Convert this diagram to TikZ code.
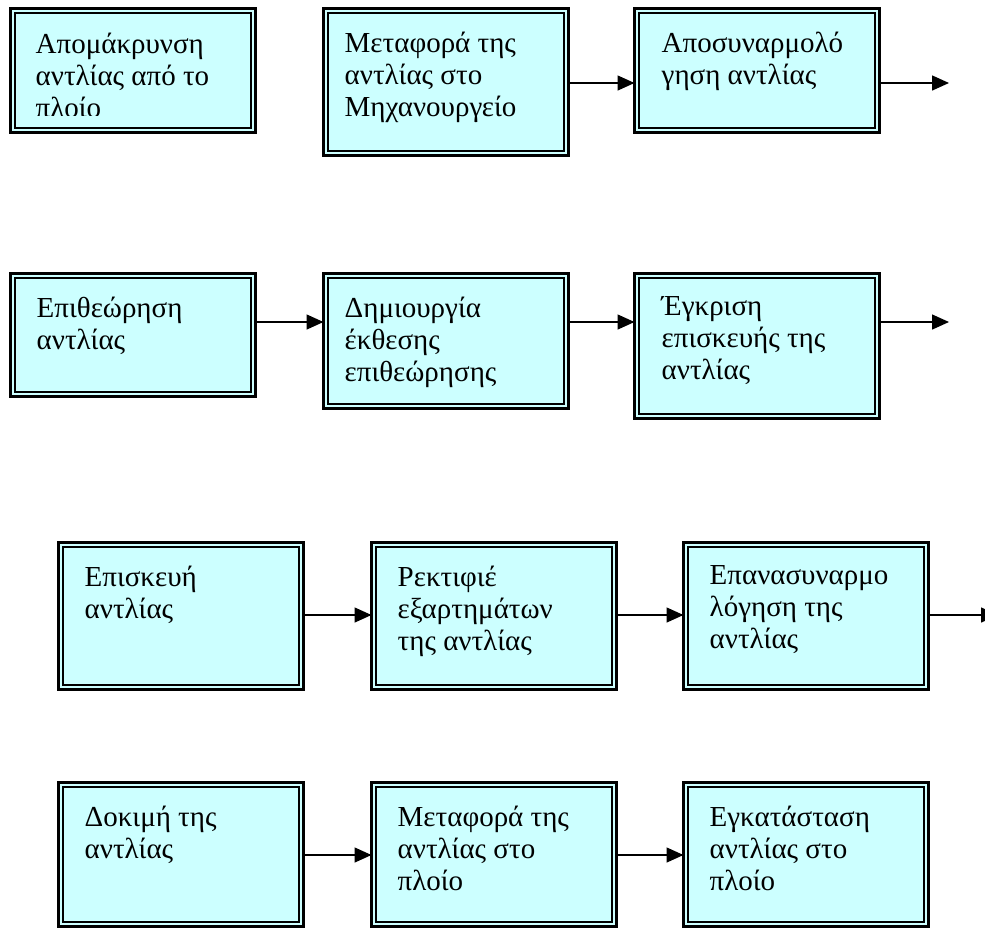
\documentclass[tikz,border=0pt]{standalone}
\usepackage{fontspec}
\setmainfont{Liberation Serif}
\usetikzlibrary{arrows.meta}
\definecolor{boxcyan}{HTML}{CCFFFF}

\begin{document}
\begin{tikzpicture}[x=1pt,y=-1pt,>={Triangle[length=17pt,width=15pt]},font=\fontsize{29}{32}\selectfont]
    \tikzstyle{rec}=[draw=black,line width=3.5pt,fill=boxcyan,rectangle,anchor=north west,inner sep=0pt,outer sep=0pt,minimum width=245pt,
        path picture={\draw[line width=2pt] ([shift={(4.5,4.5)}]path picture bounding box.north west) rectangle ([shift={(-4.5,-4.5)}]path picture bounding box.south east);}]
    \tikzstyle{txt}=[anchor=north west,inner sep=0pt,align=left,execute at begin node=\strut]
    \tikzstyle{arr}=[->,line width=1.5pt]

    \useasboundingbox (0,0) rectangle (985,929);

    \coordinate (r1) at (0,83);
    \coordinate (r2) at (0,322);
    \coordinate (r3) at (0,615);
    \coordinate (r4) at (0,855);

    \node[rec, minimum height=124pt] (pull) at (10.5,8.5) {};
    \node[rec, minimum height=147pt] (move) at (323.5,8.5) {};
    \node[rec, minimum height=124pt] (dismantle) at (634.5,8.5) {};
    \node[rec, minimum height=123pt] (inspect) at (10.5,273.5) {};
    \node[rec, minimum height=135pt] (report) at (323.5,273.5) {};
    \node[rec, minimum height=145pt] (approve) at (634.5,273.5) {};
    \node[rec, minimum height=147pt] (repair) at (58.5,542.5) {};
    \node[rec, minimum height=147pt] (grind) at (371.5,542.5) {};
    \node[rec, minimum height=147pt] (reassemble) at (683.5,542.5) {};
    \node[rec, minimum height=144pt] (test) at (58.5,782.5) {};
    \node[rec, minimum height=144pt] (ship) at (371.5,782.5) {};
    \node[rec, minimum height=144pt] (install) at (683.5,782.5) {};

    \begin{scope}
        \clip (pull.north west) rectangle ([yshift=17pt]pull.south east);
        \node[txt] (pull-t) at ([shift={(25,24)}]pull.north west) {Απομάκρυνση\\αντλίας από το\\πλοίο};
    \end{scope}
    \node[txt] (move-t) at ([shift={(21,23)}]move.north west) {Μεταφορά της\\αντλίας στο\\Μηχανουργείο};
    \node[txt] (dismantle-t) at ([shift={(27,23)}]dismantle.north west) {Αποσυναρμολό\\γηση αντλίας};
    \node[txt] (inspect-t) at ([shift={(26,23)}]inspect.north west) {Επιθεώρηση\\αντλίας};
    \node[txt] (report-t) at ([shift={(21,23)}]report.north west) {Δημιουργία\\έκθεσης\\επιθεώρησης};
    \node[txt] (approve-t) at ([shift={(27,23)}]approve.north west) {Έγκριση\\επισκευής της\\αντλίας};
    \node[txt] (repair-t) at ([shift={(26,23)}]repair.north west) {Επισκευή\\αντλίας};
    \node[txt] (grind-t) at ([shift={(26,23)}]grind.north west) {Ρεκτιφιέ\\εξαρτημάτων\\της αντλίας};
    \node[txt] (reassemble-t) at ([shift={(26,23)}]reassemble.north west) {Επανασυναρμο\\λόγηση της\\αντλίας};
    \node[txt] (test-t) at ([shift={(26,23)}]test.north west) {Δοκιμή της\\αντλίας};
    \node[txt] (ship-t) at ([shift={(26,23)}]ship.north west) {Μεταφορά της\\αντλίας στο\\πλοίο};
    \node[txt] (install-t) at ([shift={(26,23)}]install.north west) {Εγκατάσταση\\αντλίας στο\\πλοίο};

    \coordinate (dismantle-out) at (949,83);
    \coordinate (approve-out) at (949,322);
    \coordinate (reassemble-out) at (998,615);

    \draw[arr] (move.east |- r1) to (dismantle.west |- r1);
    \draw[arr] (dismantle.east |- r1) to (dismantle-out);
    \draw[arr] (inspect.east |- r2) to (report.west |- r2);
    \draw[arr] (report.east |- r2) to (approve.west |- r2);
    \draw[arr] (approve.east |- r2) to (approve-out);
    \draw[arr] (repair.east |- r3) to (grind.west |- r3);
    \draw[arr] (grind.east |- r3) to (reassemble.west |- r3);
    \draw[arr] (reassemble.east |- r3) to (reassemble-out);
    \draw[arr] (test.east |- r4) to (ship.west |- r4);
    \draw[arr] (ship.east |- r4) to (install.west |- r4);
    %\draw[arr] (pull.east |- r1) to (move.west |- r1);
\end{tikzpicture}
\end{document}
